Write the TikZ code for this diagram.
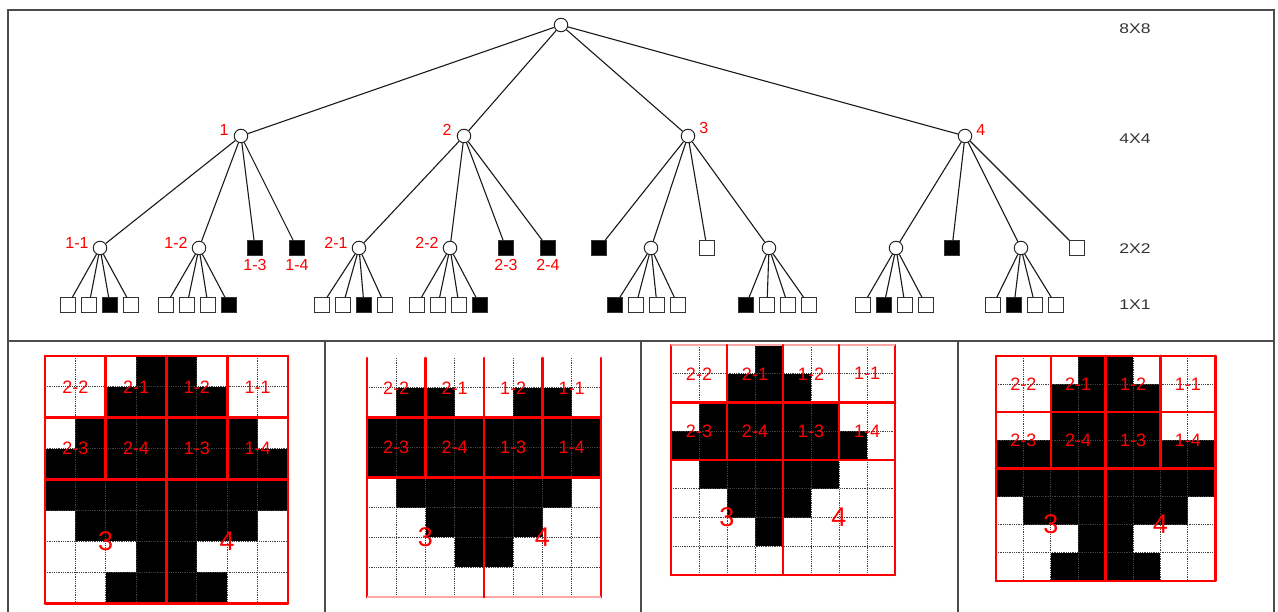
\documentclass[tikz,border=0pt]{standalone}
\usepackage{fontspec}
\setmainfont{Liberation Sans}
\usetikzlibrary{positioning}

\begin{document}
\begin{tikzpicture}[
    x=1pt, y=-1pt,
    font=\fontsize{16}{16}\selectfont,
    branch/.style={
        draw=black!85, circle, fill=white,
        line width=1pt, minimum size=13.5pt, inner sep=0pt
    },
    cell/.style={
        draw=black!80, line width=1.1pt,
        minimum size=14.5pt, inner sep=0pt
    },
    link/.style={line width=1.1pt, black!90},
    tag/.style={text=red, inner sep=1pt},
    level/.style={text=black!80, font=\fontsize{14}{14}\selectfont},
    frame/.style={line width=1.2pt, black!70},
    gridline/.style={densely dotted, line width=0.8pt, black!75},
    redline/.style={red, line width=2.6pt, line cap=round, line join=round},
    redfaint/.style={red!35, line width=1.5pt},
    redoff/.style={draw=none},
    gridtag/.style={text=red, font=\fontsize{18}{18}\selectfont},
    quadtag/.style={text=red, font=\fontsize{27}{27}\selectfont}
]

\useasboundingbox (0,0) rectangle (1278,612);

% ===== FRAME =====
\draw[frame] (8,620) -- (8,10) -- (1274,10) -- (1274,620);
\draw[frame] (8,341) -- (1274,341);
\foreach \xx in {325,641,958} \draw[frame] (\xx,341) -- (\xx,620);

% ===== ROOT AND 4X4 LEVEL =====
\node[branch] (root) at (561,25) {};
\node[branch] (n1) at (241,136) {};
\node[branch] (n2) at (464,136) {};
\node[branch] (n3) at (688,136) {};
\node[branch] (n4) at (965,136) {};

\node[tag, left=4pt of n1, yshift=6pt] (t1) {1};
\node[tag, left=4pt of n2, yshift=6pt] (t2) {2};
\node[tag, right=3pt of n3, yshift=8pt] (t3) {3};
\node[tag, right=3pt of n4, yshift=6pt] (t4) {4};

% ===== 2X2 LEVEL =====
\node[branch] (n11) at (100,248) {};
\node[branch] (n12) at (199,248) {};
\node[cell, fill=black] (n13) at (255,248) {};
\node[cell, fill=black] (n14) at (297,248) {};

\node[branch] (n21) at (359,248) {};
\node[branch] (n22) at (450,248) {};
\node[cell, fill=black] (n23) at (506,248) {};
\node[cell, fill=black] (n24) at (548,248) {};

\node[cell, fill=black] (n31) at (599,248) {};
\node[branch] (n32) at (651,248) {};
\node[cell, fill=white] (n33) at (707,248) {};
\node[branch] (n34) at (769,248) {};

\node[branch] (n41) at (896,248) {};
\node[cell, fill=black] (n42) at (952,248) {};
\node[branch] (n43) at (1021,248) {};
\node[cell, fill=white] (n44) at (1077,248) {};

\node[tag, left=3pt of n11, yshift=5pt] (t11) {1-1};
\node[tag, left=3pt of n12, yshift=5pt] (t12) {1-2};
\node[tag, below=2pt of n13] (t13) {1-3};
\node[tag, below=2pt of n14] (t14) {1-4};
\node[tag, left=3pt of n21, yshift=5pt] (t21) {2-1};
\node[tag, left=3pt of n22, yshift=5pt] (t22) {2-2};
\node[tag, below=2pt of n23] (t23) {2-3};
\node[tag, below=2pt of n24] (t24) {2-4};

\foreach \a in {1,...,4} {
    \draw[link] (root) -- (n\a);
    \foreach \b in {1,...,4} \draw[link] (n\a) -- (n\a\b);
}

% ===== 1X1 LEVEL =====
\foreach \p/\x/\fa/\fb/\fc/\fd in {
    n11/68/white/white/black/white, n12/166/white/white/white/black,
    n21/322/white/white/black/white, n22/417/white/white/white/black,
    n32/615/black/white/white/white, n34/746/black/white/white/white,
    n41/863/white/black/white/white, n43/993/white/black/white/white} {
    \foreach \j/\f in {0/\fa,1/\fb,2/\fc,3/\fd} {
        \node[cell, fill=\f] (\p-\j) at ({\x+21*\j},305) {};
        \draw[link] (\p) -- (\p-\j);
    }
}

% ===== LEVEL NAMES =====
\node[level] (l8) at (1135,29) {\scalebox{1.25}[1]{8X8}};
\node[level] (l4) at (1135,139) {\scalebox{1.25}[1]{4X4}};
\node[level] (l2) at (1135,249) {\scalebox{1.25}[1]{2X2}};
\node[level] (l1) at (1135,305) {\scalebox{1.25}[1]{1X1}};

% ===== 8X8 PANELS =====
\foreach \p/\x/\y/\w/\h/\topln/\botln/\cells in {
    a/45/356/30.375pt/30.9pt/redline/redline/{0/3/4,1/2/5,2/1/6,3/0/7,4/0/7,5/1/6,6/3/4,7/2/5},
    b/367/358/29.25pt/29.9pt/redoff/redfaint/{1/1/2,1/5/6,2/0/7,3/0/7,4/1/6,5/2/5,6/3/4},
    c/671/345/28pt/28.75pt/redfaint/redline/{0/3/3,1/2/4,2/1/5,3/0/6,4/1/5,5/2/4,6/3/3},
    d/996/356/27.4pt/28.1pt/redline/redline/{0/3/4,1/2/5,2/2/5,3/0/7,4/0/7,5/1/6,6/3/4,7/2/5}} {
    \begin{scope}[shift={(\x,\y)}, x=\w, y=-\h]
        % black cells
        \foreach \rw/\ca/\cb in \cells
            \fill (\ca,\rw) rectangle ({\cb+1},{\rw+1});
        % dotted cell grid
        \foreach \j in {1,...,7} {
            \draw[gridline] (\j,0) -- (\j,8);
            \draw[gridline] (0,\j) -- (8,\j);
        }
        % red block lines
        \draw[redline] (0,0) -- (0,8);
        \draw[redline] (8,0) -- (8,8);
        \draw[\topln] (0,0) -- (8,0);
        \draw[\botln] (0,8) -- (8,8);
        \foreach \j in {2,4} \draw[redline] (0,\j) -- (8,\j);
        \foreach \j in {2,4,6} \draw[redline] (\j,0) -- (\j,4);
        \draw[redline] (4,4) -- (4,8);
        % block names
        \foreach \cx/\ry/\t in {1/1/2-2,3/1/2-1,5/1/1-2,7/1/1-1,1/3/2-3,3/3/2-4,5/3/1-3,7/3/1-4}
            \node[gridtag] (\p\t) at (\cx,\ry) {\t};
        \node[quadtag] (\p3) at (2,6) {3};
        \node[quadtag] (\p4) at (6,6) {4};
    \end{scope}
}

\end{tikzpicture}
\end{document}
